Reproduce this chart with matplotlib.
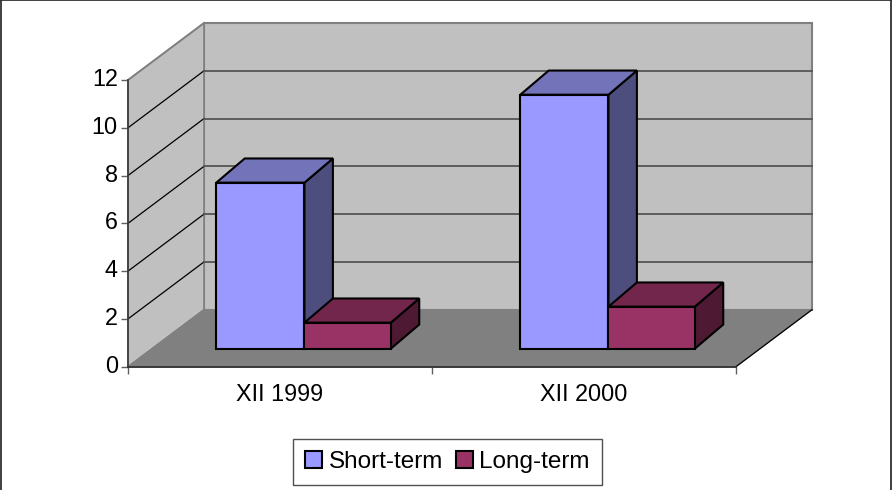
import matplotlib
matplotlib.use("Agg")
import matplotlib.pyplot as plt
from matplotlib.patches import Polygon, Patch
from matplotlib.lines import Line2D
from matplotlib.transforms import ScaledTranslation

categories = ["XII 1999", "XII 2000"]
series_names = ["Short-term", "Long-term"]
short_term = [6.95, 10.63]
long_term = [1.09, 1.76]
y_ticks = [0, 2, 4, 6, 8, 10, 12]

W, H = 892, 490
plt.rcParams["font.family"] = ["Liberation Sans", "DejaVu Sans"]
fig = plt.figure(figsize=(W / 100, H / 100), dpi=100, facecolor="white")
L, R, T, B = 128.0, 736.0, 80, 366.7
ax = fig.add_axes([L / W, 1 - B / H, (R - L) / W, (B - T) / H])
ax.set_xlim(0, 2)
ax.set_ylim(0, 12)
ax.patch.set_visible(False)
for s in ax.spines.values():
    s.set_visible(False)

DX = 76 * 2 / (R - L)
DY = 57 * 12 / (B - T)


def P(x, y, d, dy=None):
    return (x + d * DX, y + (d if dy is None else dy) * DY)


def poly(pts, fc, ec, lw, z):
    ax.add_patch(Polygon(pts, closed=True, facecolor=fc, edgecolor=ec, linewidth=lw,
                         zorder=z, clip_on=False, joinstyle="miter"))


wall = "#c0c0c0"
poly([P(0, 0, 1), P(2, 0, 1), P(2, 12, 1), P(0, 12, 1)], wall, "#808080", 1.5, 1)
poly([P(0, 0, 0), P(0, 0, 1), P(0, 12, 1), P(0, 12, 0)], wall, "#808080", 1.2, 1)
poly([P(0, 0, 0), P(2, 0, 0), P(2, 0, 1), P(0, 0, 1)], "#808080", "#808080", 0.8, 1)
ax.plot(*zip(P(2, 0, 0), P(2, 0, 1)), color="black", lw=0.9, zorder=2, clip_on=False)

for v in y_ticks[1:-1]:
    ax.plot(*zip(P(0, v, 0), P(0, v, 1)), color="black", lw=0.9, zorder=2, clip_on=False)
    ax.plot(*zip(P(0, v, 1), P(2, v, 1)), color="#555555", lw=1.3, zorder=2, clip_on=False)
ax.plot(*zip(P(0, 12, 0), P(0, 12, 1)), color="#808080", lw=1.2, zorder=2, clip_on=False)

ax.plot([0, 0], [0, 12], color="#404040", lw=1.3, zorder=3, clip_on=False)
ax.plot([0, 2], [0, 0], color="#303030", lw=1.3, zorder=3, clip_on=False)

ax.set_yticks(y_ticks)
ax.set_xticks([0, 1, 2])
ax.set_xticklabels([])
ax.tick_params(axis="both", length=4.7, width=1.0, color="#606060", labelsize=16.8,
               labelcolor="black", pad=0)
ax.tick_params(axis="y", pad=2.6)
shift = ScaledTranslation(0, 3 / 100, fig.dpi_scale_trans)
for lab in ax.get_yticklabels():
    lab.set_transform(lab.get_transform() + shift)
for i, c in enumerate(categories):
    ax.annotate(c, (i + 0.5, 0), xytext=(0, -16.5 * 0.72), textcoords="offset points",
                ha="center", va="top", fontsize=16.8, annotation_clip=False)

d0, d1x, d1y = 0.316, 0.69, 0.74
bw_short, bw_long, start = 0.29, 0.284, 0.2115
colors = {
    0: ("#9999ff", "#7373b9", "#4e4e7e"),
    1: ("#993366", "#72264c", "#4e1a33"),
}


def bar(x0, width, val, cols, z):
    x1 = x0 + width
    front, top, side = cols
    poly([P(x1, 0, d0), P(x1, 0, d1x, d1y), P(x1, val, d1x, d1y), P(x1, val, d0)], side, "black", 1.5, z)
    poly([P(x0, val, d0), P(x1, val, d0), P(x1, val, d1x, d1y), P(x0, val, d1x, d1y)], top, "black", 1.5, z)
    poly([P(x0, 0, d0), P(x1, 0, d0), P(x1, val, d0), P(x0, val, d0)], front, "black", 1.5, z)


for i in range(len(categories)):
    bar(i + start, bw_short, short_term[i], colors[0], 5 + i)
    bar(i + start + bw_short, bw_long, long_term[i], colors[1], 5.5 + i)

handles = [Patch(facecolor=colors[0][0], edgecolor="black", linewidth=1.5, label=series_names[0]),
           Patch(facecolor=colors[1][0], edgecolor="black", linewidth=1.5, label=series_names[1])]
leg = fig.legend(handles=handles, loc="center", bbox_to_anchor=(447.5 / W, 1 - 462 / H), ncol=2,
                 fontsize=17.5, fancybox=False, framealpha=1, edgecolor="#505050",
                 handlelength=0.7, handleheight=0.68, handletextpad=0.28, columnspacing=0.5,
                 borderpad=0.5, borderaxespad=0)
leg.get_frame().set_linewidth(1.0)

for xs, ys in [((0, 1), (0.999, 0.999)), ((0.0008, 0.0008), (0, 1)), ((0.9985, 0.9985), (0, 1))]:
    fig.add_artist(Line2D(xs, ys, transform=fig.transFigure, color="#303030", lw=1.3))

fig.savefig("out.png", dpi=100)
